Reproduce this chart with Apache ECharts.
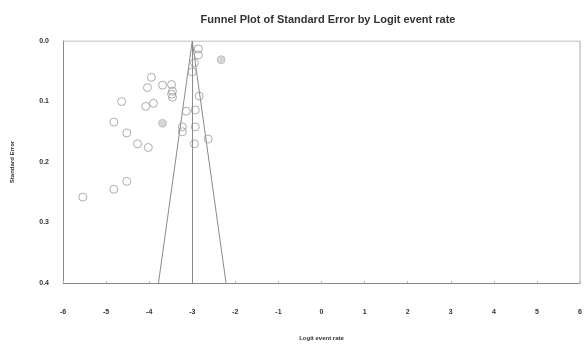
<!DOCTYPE html>
<html>
<head>
<meta charset="utf-8">
<script src="https://cdn.jsdelivr.net/npm/echarts@6/dist/echarts.min.js"></script>
<style>
  html, body { margin: 0; padding: 0; background: #fff; }
  #main { width: 585px; height: 346px; }
</style>
</head>
<body>
<div id="main"></div>
<script>
// studies: [logit event rate, standard error]
const studies = [
  [-2.86, 0.013], [-2.86, 0.023], [-2.95, 0.036], [-3.0, 0.051],
  [-3.95, 0.060], [-4.04, 0.077], [-3.69, 0.073], [-3.48, 0.072],
  [-3.46, 0.083], [-3.48, 0.088], [-3.46, 0.093], [-4.64, 0.100],
  [-4.08, 0.108], [-3.90, 0.103], [-2.84, 0.091], [-3.14, 0.116],
  [-2.93, 0.114], [-4.82, 0.134], [-3.23, 0.142], [-3.23, 0.150],
  [-2.93, 0.142], [-4.52, 0.152], [-2.63, 0.162], [-2.95, 0.170],
  [-4.27, 0.170], [-4.02, 0.176], [-4.52, 0.232], [-4.82, 0.245],
  [-5.54, 0.258],
]
const shadedStudies = [[-2.33, 0.031], [-3.69, 0.136]]

const pooled = -3.0
const seMax = 0.4
const funnel = [
  [pooled - 1.96 * seMax, seMax],
  [pooled, 0],
  [pooled + 1.96 * seMax, seMax],
]

const FONT = 'Liberation Sans'
const LINE = '#8a8a8a'

const chart = echarts.init(document.getElementById('main'))
chart.setOption({
  animation: false,
  title: {
    text: 'Funnel Plot of Standard Error by Logit event rate',
    left: 323,
    textAlign: 'center',
    top: 9,
    textStyle: { fontFamily: FONT, fontSize: 11, fontWeight: 'bold', color: '#333' },
  },
  grid: { left: 63, right: 2, top: 41, bottom: 60 },
  xAxis: {
    type: 'value',
    min: -6,
    max: 6,
    interval: 1,
    name: 'Logit event rate',
    nameLocation: 'middle',
    nameGap: 52,
    nameTextStyle: { fontFamily: FONT, fontSize: 6, fontWeight: 'bold', color: '#333' },
    axisLine: { show: true, onZero: false, lineStyle: { color: LINE } },
    axisTick: { show: true, inside: true, length: 2, lineStyle: { color: '#bbb' } },
    axisLabel: { margin: 26, fontFamily: FONT, fontSize: 7, fontWeight: 'bold', color: '#333' },
    splitLine: { show: false },
  },
  yAxis: {
    type: 'value',
    inverse: true,
    min: 0,
    max: seMax,
    interval: 0.1,
    name: 'Standard Error',
    nameLocation: 'middle',
    nameGap: 48,
    nameTextStyle: { fontFamily: FONT, fontSize: 6, fontWeight: 'bold', color: '#333' },
    axisLine: { show: true, onZero: false, lineStyle: { color: LINE } },
    axisTick: { show: false },
    axisLabel: {
      margin: 14,
      fontFamily: FONT,
      fontSize: 7,
      fontWeight: 'bold',
      color: '#333',
      formatter: (v) => v.toFixed(1),
    },
    splitLine: { show: false },
  },
  series: [
    {
      type: 'line',
      data: funnel,
      symbol: 'none',
      lineStyle: { color: LINE, width: 1 },
      markLine: {
        silent: true,
        symbol: 'none',
        label: { show: false },
        lineStyle: { color: LINE, width: 1, type: 'solid' },
        data: [{ xAxis: pooled }],
      },
      z: 1,
    },
    {
      // box edges on top and right
      type: 'line',
      data: [[-6, 0], [6, 0], [6, seMax]],
      symbol: 'none',
      lineStyle: { color: '#aaa', width: 1 },
      z: 1,
    },
    {
      type: 'scatter',
      data: studies,
      symbol: 'circle',
      symbolSize: 8,
      itemStyle: { color: 'rgba(255,255,255,0)', borderColor: '#999', borderWidth: 1 },
      z: 3,
    },
    {
      type: 'scatter',
      data: shadedStudies,
      symbol: 'circle',
      symbolSize: 8,
      itemStyle: { color: '#ccc', borderColor: '#bbb', borderWidth: 1 },
      z: 3,
    },
  ],
})
</script>
</body>
</html>
